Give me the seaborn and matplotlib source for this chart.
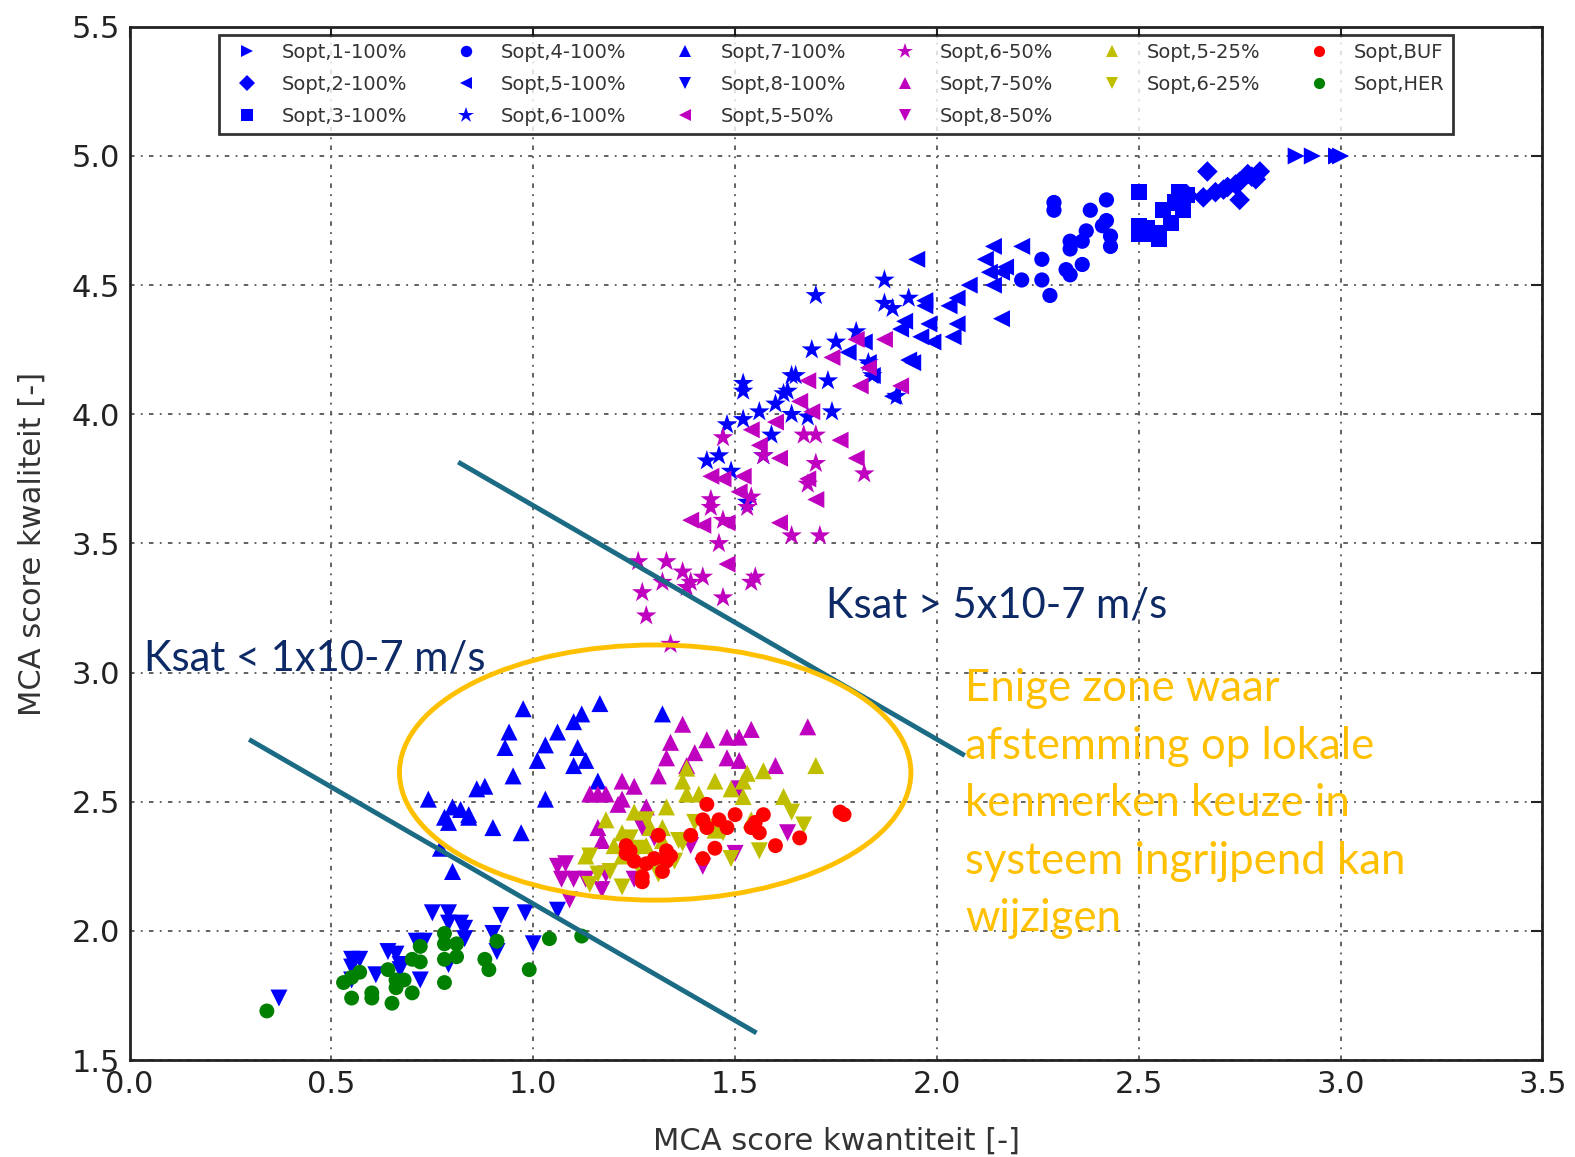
import numpy as np
import pandas as pd
import matplotlib
matplotlib.use("Agg")
import matplotlib.pyplot as plt
from matplotlib.patches import Ellipse
import seaborn as sns

# --- data -------------------------------------------------------------------
series_names = [
    "Sopt,1-100%", "Sopt,2-100%", "Sopt,3-100%",
    "Sopt,4-100%", "Sopt,5-100%", "Sopt,6-100%",
    "Sopt,7-100%", "Sopt,8-100%", "Sopt,5-50%",
    "Sopt,6-50%", "Sopt,7-50%", "Sopt,8-50%",
    "Sopt,5-25%", "Sopt,6-25%",
    "Sopt,BUF", "Sopt,HER",
]
series_colors = ["#0000ff"] * 8 + ["#bf00bf"] * 4 + ["#bfbf00"] * 2 + ["#ff0000", "#008000"]
series_markers = [">", "D", "s", "o", "<", "*", "^", "v", "<", "*", "^", "v", "^", "v", "o", "o"]
series_sizes = [150, 110, 140, 120, 150, 240, 150, 150, 150, 240, 150, 150, 150, 150, 115, 115]

s1_100_x = [2.89, 2.93, 2.99, 3.00]
s1_100_y = [5.00, 5.00, 5.00, 5.00]

s2_100_x = [2.62, 2.66, 2.69, 2.72, 2.75, 2.78, 2.80, 2.67, 2.75, 2.71, 2.74, 2.77, 2.79]
s2_100_y = [4.85, 4.84, 4.86, 4.88, 4.90, 4.92, 4.94, 4.94, 4.83, 4.87, 4.89, 4.93, 4.91]

s3_100_x = [2.50, 2.50, 2.55, 2.56, 2.60, 2.61, 2.58, 2.50, 2.54, 2.52, 2.62, 2.59]
s3_100_y = [4.86, 4.73, 4.68, 4.79, 4.86, 4.79, 4.74, 4.70, 4.70, 4.72, 4.85, 4.82]

s4_100_x = [2.29, 2.29, 2.38, 2.42, 2.42, 2.37, 2.33, 2.33, 2.36, 2.43, 2.43, 2.26, 2.26, 2.28, 2.21, 2.32, 2.36, 2.33, 2.41]
s4_100_y = [4.82, 4.79, 4.79, 4.83, 4.75, 4.71, 4.67, 4.64, 4.67, 4.69, 4.65, 4.60, 4.52, 4.46, 4.52, 4.56, 4.58, 4.54, 4.73]

s5_100_x = [1.95, 2.21, 2.14, 2.12, 2.17, 2.13, 2.08, 2.14, 2.16, 1.97, 2.03, 2.05, 1.97, 1.92,
            1.91, 1.98, 2.05, 2.04, 1.96, 1.99, 2.16, 1.93, 1.82, 1.78, 1.83, 1.84, 1.94, 1.89]
s5_100_y = [4.60, 4.65, 4.65, 4.60, 4.57, 4.55, 4.50, 4.50, 4.55, 4.44, 4.42, 4.45, 4.42, 4.36,
            4.33, 4.35, 4.35, 4.30, 4.30, 4.28, 4.37, 4.21, 4.28, 4.24, 4.20, 4.15, 4.20, 4.07]

s6_100_x = [1.87, 1.70, 1.87, 1.89, 1.93, 1.80, 1.75, 1.69, 1.83, 1.84, 1.65, 1.73, 1.52, 1.64, 1.63, 1.60,
            1.64, 1.74, 1.59, 1.90, 1.57, 1.52, 1.56, 1.52, 1.48, 1.68, 1.43, 1.46, 1.49, 1.53, 1.62]
s6_100_y = [4.52, 4.46, 4.43, 4.41, 4.45, 4.32, 4.28, 4.25, 4.20, 4.15, 4.15, 4.13, 4.12, 4.15, 4.09, 4.04,
            4.00, 4.01, 3.92, 4.07, 3.84, 4.09, 4.01, 3.98, 3.96, 3.99, 3.82, 3.84, 3.78, 3.66, 4.08]

s7_100_x = [0.975, 1.165, 1.32, 1.12, 1.10, 0.94, 1.06, 0.93, 1.03, 1.11, 1.01, 1.13, 1.10, 0.95, 0.88,
            0.86, 1.16, 0.74, 1.03, 0.80, 0.82, 0.84, 0.78, 0.79, 0.84, 0.90, 0.97, 0.80, 0.77]
s7_100_y = [2.86, 2.88, 2.84, 2.84, 2.81, 2.77, 2.77, 2.71, 2.72, 2.71, 2.66, 2.66, 2.64, 2.60, 2.56,
            2.55, 2.58, 2.51, 2.51, 2.48, 2.47, 2.45, 2.44, 2.42, 2.44, 2.40, 2.38, 2.23, 2.32]

s8_100_x = [0.37, 0.55, 0.55, 0.57, 0.55, 0.61, 0.64, 0.66, 0.67, 0.67, 0.72, 0.71, 0.73,
            0.75, 0.79, 0.79, 0.82, 0.83, 0.83, 0.79, 0.90, 0.92, 0.91, 0.98, 1.00, 1.06]
s8_100_y = [1.74, 1.86, 1.89, 1.89, 1.81, 1.83, 1.92, 1.91, 1.87, 1.85, 1.81, 1.96, 1.96,
            2.07, 2.07, 2.03, 2.03, 2.01, 1.97, 1.87, 1.99, 2.06, 1.92, 2.07, 1.95, 2.08]

s5_50_x = [1.80, 1.87, 1.74, 1.83, 1.68, 1.81, 1.91, 1.66, 1.69, 1.60, 1.76, 1.61, 1.80,
           1.54, 1.56, 1.52, 1.44, 1.47, 1.68, 1.51, 1.70, 1.39, 1.42, 1.48, 1.61, 1.48]
s5_50_y = [4.29, 4.29, 4.22, 4.18, 4.13, 4.11, 4.11, 4.05, 4.01, 3.97, 3.90, 3.83, 3.83,
           3.94, 3.88, 3.76, 3.76, 3.75, 3.75, 3.70, 3.67, 3.59, 3.57, 3.58, 3.58, 3.42]

s6_50_x = [1.47, 1.57, 1.70, 1.67, 1.70, 1.82, 1.44, 1.44, 1.54, 1.53, 1.68, 1.47, 1.64, 1.71,
           1.46, 1.26, 1.33, 1.37, 1.39, 1.42, 1.38, 1.27, 1.32, 1.47, 1.54, 1.55, 1.28, 1.34]
s6_50_y = [3.91, 3.84, 3.81, 3.92, 3.92, 3.77, 3.67, 3.64, 3.68, 3.64, 3.73, 3.59, 3.53, 3.53,
           3.50, 3.43, 3.43, 3.39, 3.35, 3.37, 3.33, 3.31, 3.35, 3.29, 3.35, 3.37, 3.22, 3.11]

s7_50_x = [1.37, 1.34, 1.33, 1.31, 1.40, 1.43, 1.48, 1.51, 1.54, 1.48, 1.51, 1.60,
           1.68, 1.38, 1.14, 1.16, 1.18, 1.22, 1.25, 1.22, 1.21, 1.28, 1.16, 1.17]
s7_50_y = [2.80, 2.73, 2.67, 2.60, 2.69, 2.74, 2.75, 2.75, 2.78, 2.67, 2.66, 2.64,
           2.79, 2.64, 2.53, 2.53, 2.53, 2.58, 2.56, 2.51, 2.49, 2.48, 2.40, 2.35]

s8_50_x = [1.06, 1.08, 1.07, 1.10, 1.13, 1.09, 1.17, 1.18, 1.27, 1.30, 1.39, 1.42, 1.50, 1.63, 1.51, 1.25]
s8_50_y = [2.25, 2.26, 2.20, 2.20, 2.20, 2.12, 2.16, 2.22, 2.40, 2.36, 2.33, 2.25, 2.30, 2.38, 2.55, 2.20]

s5_25_x = [1.37, 1.38, 1.45, 1.49, 1.52, 1.53, 1.57, 1.70, 1.62, 1.52, 1.41, 1.38, 1.33,
           1.25, 1.18, 1.22, 1.29, 1.32, 1.20, 1.13, 1.22, 1.28, 1.32, 1.45, 1.54]
s5_25_y = [2.58, 2.63, 2.58, 2.55, 2.58, 2.61, 2.62, 2.64, 2.52, 2.52, 2.53, 2.53, 2.48,
           2.46, 2.43, 2.38, 2.40, 2.40, 2.33, 2.29, 2.29, 2.33, 2.35, 2.39, 2.43]

s6_25_x = [1.64, 1.67, 1.56, 1.49, 1.36, 1.37, 1.40, 1.45, 1.28, 1.26, 1.14,
           1.16, 1.14, 1.22, 1.19, 1.26, 1.32, 1.35, 1.31, 1.24, 1.47]
s6_25_y = [2.46, 2.41, 2.31, 2.28, 2.35, 2.34, 2.42, 2.40, 2.43, 2.32, 2.29,
           2.22, 2.18, 2.17, 2.23, 2.25, 2.25, 2.27, 2.22, 2.36, 2.38]

buf_x = [1.43, 1.42, 1.46, 1.50, 1.48, 1.43, 1.55, 1.57, 1.56, 1.54, 1.76, 1.77, 1.66, 1.60, 1.45,
         1.42, 1.39, 1.31, 1.23, 1.24, 1.25, 1.28, 1.30, 1.33, 1.34, 1.33, 1.32, 1.27, 1.27, 1.23]
buf_y = [2.49, 2.43, 2.43, 2.45, 2.40, 2.40, 2.42, 2.45, 2.38, 2.40, 2.46, 2.45, 2.36, 2.33, 2.32,
         2.28, 2.37, 2.37, 2.33, 2.31, 2.27, 2.26, 2.28, 2.31, 2.29, 2.27, 2.23, 2.21, 2.19, 2.30]

her_x = [0.34, 0.53, 0.55, 0.57, 0.55, 0.60, 0.60, 0.65, 0.64, 0.66, 0.66, 0.68, 0.70, 0.72,
         0.72, 0.70, 0.78, 0.78, 0.81, 0.81, 0.78, 0.78, 0.91, 0.88, 0.89, 0.99, 1.04, 1.12]
her_y = [1.69, 1.80, 1.82, 1.84, 1.74, 1.76, 1.74, 1.72, 1.85, 1.81, 1.78, 1.81, 1.89, 1.88,
         1.94, 1.76, 1.99, 1.95, 1.95, 1.90, 1.89, 1.80, 1.96, 1.89, 1.85, 1.85, 1.97, 1.98]

series_x = [s1_100_x, s2_100_x, s3_100_x, s4_100_x, s5_100_x, s6_100_x, s7_100_x, s8_100_x,
            s5_50_x, s6_50_x, s7_50_x, s8_50_x, s5_25_x, s6_25_x, buf_x, her_x]
series_y = [s1_100_y, s2_100_y, s3_100_y, s4_100_y, s5_100_y, s6_100_y, s7_100_y, s8_100_y,
            s5_50_y, s6_50_y, s7_50_y, s8_50_y, s5_25_y, s6_25_y, buf_y, her_y]

df = pd.concat(
    [pd.DataFrame({"kwantiteit": xs, "kwaliteit": ys, "serie": name})
     for name, xs, ys in zip(series_names, series_x, series_y)],
    ignore_index=True,
)

# --- plotting ---------------------------------------------------------------
sns.set_style("white")
plt.rcParams["font.family"] = ["DejaVu Sans"]

fig = plt.figure(figsize=(15.75, 11.57), dpi=100)
ax = fig.add_axes([0.0823, 0.0838, 0.897, 0.893])

sns.scatterplot(
    data=df, x="kwantiteit", y="kwaliteit",
    hue="serie", style="serie", size="serie",
    hue_order=series_names, style_order=series_names, size_order=series_names,
    palette=dict(zip(series_names, series_colors)),
    markers=dict(zip(series_names, series_markers)),
    sizes=dict(zip(series_names, series_sizes)),
    linewidth=0, ax=ax, zorder=3,
)

ax.set_xlim(0, 3.5)
ax.set_ylim(1.5, 5.5)
ax.set_xticks(np.arange(0, 3.51, 0.5))
ax.set_yticks(np.arange(1.5, 5.51, 0.5))
ax.set_xticklabels([f"{v:.1f}" for v in np.arange(0, 3.51, 0.5)])
ax.set_yticklabels([f"{v:.1f}" for v in np.arange(1.5, 5.51, 0.5)])
ax.tick_params(direction="in", length=8, width=1.5, top=True, right=True,
               labelsize=22, pad=7, colors="#222222")
ax.grid(True, color="#555555", linestyle=(0, (2.5, 3.5, 1, 3.5)), linewidth=1.3)
ax.set_axisbelow(True)
for sp in ax.spines.values():
    sp.set_linewidth(2)
    sp.set_color("#222222")

ax.set_xlabel("MCA score kwantiteit [-]", fontsize=22, color="#333333", labelpad=20)
ax.set_ylabel("MCA score kwaliteit [-]", fontsize=22, color="#333333", labelpad=18)

# legend, 6 columns x 3 rows along the top
handles, labels = ax.get_legend_handles_labels()
keep = [(h, l) for h, l in zip(handles, labels) if l in series_names]
leg = ax.legend(
    [h for h, _ in keep], [l for _, l in keep],
    loc="lower left", bbox_to_anchor=(0.063, 0.896, 0.874, 0.094), mode="expand",
    ncol=6, fontsize=14, markerscale=0.75, handletextpad=0.8, labelspacing=0.65,
    borderpad=0.45, frameon=True, fancybox=False, borderaxespad=0,
)
leg.get_frame().set_edgecolor("black")
leg.get_frame().set_linewidth(2)
for t in leg.get_texts():
    t.set_color("#333333")

# annotations overlaid on the chart
line_col = "#1c6b84"
ax.plot([0.814, 2.069], [3.815, 2.679], color=line_col, lw=3.5, zorder=5, solid_capstyle="butt")
ax.plot([0.296, 1.553], [2.741, 1.605], color=line_col, lw=3.5, zorder=5, solid_capstyle="butt")
ax.add_patch(Ellipse((1.302, 2.613), 1.267, 0.988, fill=False, edgecolor="#FFC000", lw=3.5, zorder=6))

navy = "#0d2a66"
ax.text(1.725, 3.215, "Ksat > 5x10-7 m/s", fontsize=30, color=navy, family="Lato", zorder=7)
ax.text(0.035, 3.01, "Ksat < 1x10-7 m/s", fontsize=30, color=navy, family="Lato", zorder=7)
ax.text(2.07, 3.017,
        "Enige zone waar\nafstemming op lokale\nkenmerken keuze in\nsysteem ingrijpend kan\nwijzigen",
        fontsize=31.5, color="#FFC000", family="Lato", va="top", linespacing=1.5, zorder=7)

fig.savefig("out.png", dpi=100)
